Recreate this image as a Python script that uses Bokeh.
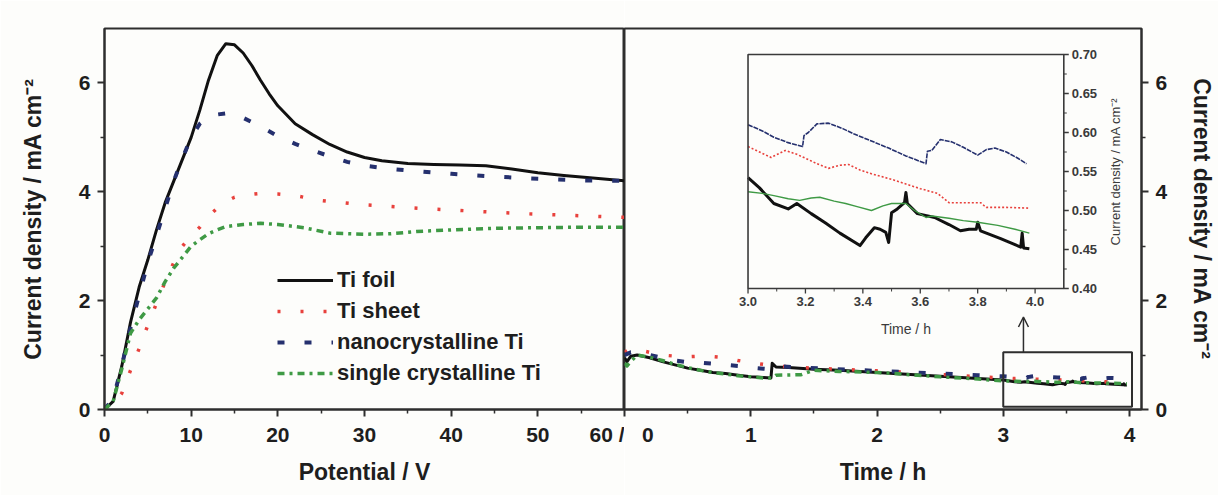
from bokeh.plotting import figure
from bokeh.layouts import row
from bokeh.models import Range1d, FixedTicker, Legend, LegendItem, Label, Arrow, OpenHead
from bokeh.embed import file_html
from bokeh.resources import INLINE
from bokeh.core.properties import value

# ---------------- data: potentiodynamic sweep (left panel) ----------------
v_foil = [0, 1, 2, 3, 4, 5, 6, 7, 8, 9, 10, 11, 12, 13, 14, 15, 16, 17, 18, 19, 20,
          22, 24, 26, 28, 30, 32, 35, 38, 41, 44, 47, 50, 53, 56, 60]
j_foil = [0, 0.15, 0.8, 1.6, 2.25, 2.75, 3.3, 3.8, 4.2, 4.6, 5.0, 5.5, 6.05, 6.5, 6.72,
          6.7, 6.55, 6.32, 6.05, 5.8, 5.58, 5.25, 5.05, 4.87, 4.73, 4.63, 4.57, 4.52,
          4.5, 4.49, 4.48, 4.42, 4.35, 4.3, 4.26, 4.2]

v_sheet = [0, 1, 2, 3, 4, 5, 6, 7, 8, 9, 10, 11, 12, 13, 14, 15, 16, 18, 20, 22, 25,
           30, 37, 48, 55, 60]
j_sheet = [0, 0.08, 0.3, 0.72, 1.12, 1.55, 1.95, 2.35, 2.7, 3.0, 3.2, 3.35, 3.55, 3.7,
           3.82, 3.9, 3.94, 3.97, 3.96, 3.93, 3.84, 3.76, 3.69, 3.6, 3.56, 3.53]

v_nano = [0, 1, 2, 3, 4, 5, 6, 7, 8, 9, 10, 11, 12, 13, 14, 15, 16, 17, 18, 20, 22,
          24, 26, 28, 30, 33, 36, 40, 45, 50, 55, 60]
j_nano = [0, 0.2, 0.8, 1.5, 2.1, 2.7, 3.2, 3.7, 4.2, 4.62, 5.0, 5.25, 5.37, 5.42, 5.44,
          5.42, 5.36, 5.28, 5.2, 5.02, 4.88, 4.76, 4.65, 4.55, 4.48, 4.42, 4.38, 4.33,
          4.28, 4.24, 4.21, 4.2]

v_single = [0, 1, 2, 3, 4, 5, 6, 7, 8, 9, 10, 11, 12, 13, 14, 15, 16, 18, 20, 23, 26,
            30, 33, 36, 40, 45, 50, 55, 60]
j_single = [0, 0.15, 0.75, 1.4, 1.65, 1.85, 2.05, 2.35, 2.6, 2.8, 3.0, 3.12, 3.23, 3.3,
            3.36, 3.38, 3.4, 3.42, 3.4, 3.34, 3.24, 3.22, 3.23, 3.27, 3.3, 3.33, 3.34,
            3.35, 3.35]

# ---------------- data: potentiostatic hold (right panel) ----------------
t_foil = [0, 0.02, 0.05, 0.1, 0.2, 0.3, 0.4, 0.5, 0.6, 0.7, 0.8, 0.9, 1.0, 1.1, 1.16,
          1.17, 1.2, 1.3, 1.5, 1.7, 2.0, 2.2, 2.5, 2.8, 3.0, 3.04, 3.09, 3.14, 3.17,
          3.22, 3.27, 3.32, 3.39, 3.41, 3.44, 3.46, 3.48, 3.49, 3.50, 3.52, 3.545, 3.55,
          3.555, 3.59, 3.65, 3.70, 3.74, 3.77, 3.795, 3.80, 3.81, 3.88, 3.95, 3.955,
          3.96, 3.98]
i_foil = [0.95, 0.88, 0.98, 1.0, 0.95, 0.88, 0.82, 0.76, 0.72, 0.68, 0.66, 0.63, 0.6,
          0.59, 0.58, 0.85, 0.78, 0.77, 0.74, 0.72, 0.68, 0.65, 0.61, 0.57, 0.542,
          0.529, 0.509, 0.502, 0.509, 0.496, 0.484, 0.471, 0.455, 0.465, 0.478, 0.476,
          0.472, 0.459, 0.497, 0.502, 0.51, 0.523, 0.509, 0.496, 0.491, 0.482, 0.474,
          0.476, 0.476, 0.485, 0.474, 0.464, 0.453, 0.471, 0.452, 0.451]

t_sheet = [0, 0.05, 0.1, 0.2, 0.3, 0.4, 0.5, 0.6, 0.7, 0.8, 0.9, 1.0, 1.1, 1.2, 1.4,
           1.6, 1.8, 2.0, 2.2, 2.4, 2.6, 2.8, 3.0, 3.04, 3.08, 3.13, 3.17, 3.2, 3.24,
           3.28, 3.32, 3.35, 3.39, 3.43, 3.5, 3.55, 3.6, 3.66, 3.70, 3.75, 3.81, 3.83,
           3.9, 3.98]
i_sheet = [1.05, 1.12, 1.1, 1.05, 1.0, 0.98, 0.97, 0.98, 0.97, 0.95, 0.9, 0.86, 0.83,
           0.8, 0.77, 0.75, 0.73, 0.71, 0.69, 0.66, 0.63, 0.6, 0.582, 0.575, 0.568,
           0.577, 0.572, 0.567, 0.56, 0.554, 0.558, 0.559, 0.552, 0.547, 0.54, 0.534,
           0.528, 0.522, 0.51, 0.51, 0.51, 0.504, 0.504, 0.503]

t_nano = [0, 0.05, 0.1, 0.2, 0.3, 0.4, 0.5, 0.6, 0.7, 0.8, 0.9, 1.0, 1.1, 1.15, 1.2,
          1.4, 1.6, 1.8, 2.0, 2.2, 2.4, 2.6, 2.8, 3.0, 3.05, 3.09, 3.14, 3.19, 3.195,
          3.21, 3.24, 3.28, 3.33, 3.37, 3.43, 3.49, 3.55, 3.62, 3.625, 3.64, 3.67,
          3.71, 3.75, 3.80, 3.83, 3.86, 3.90, 3.94, 3.97]
i_nano = [1.0, 1.05, 1.05, 1.0, 0.95, 0.9, 0.87, 0.86, 0.84, 0.82, 0.8, 0.77, 0.75,
          0.74, 0.8, 0.77, 0.75, 0.73, 0.71, 0.69, 0.67, 0.65, 0.63, 0.61, 0.602, 0.594,
          0.587, 0.582, 0.596, 0.600, 0.611, 0.612, 0.605, 0.598, 0.589, 0.58, 0.57,
          0.56, 0.576, 0.577, 0.591, 0.588, 0.581, 0.571, 0.578, 0.58, 0.575, 0.567,
          0.56]

t_single = [0, 0.02, 0.04, 0.1, 0.2, 0.3, 0.4, 0.5, 0.6, 0.7, 0.8, 0.9, 1.0, 1.1, 1.17,
            1.2, 1.4, 1.5, 1.7, 2.0, 2.2, 2.5, 2.8, 3.0, 3.05, 3.09, 3.14, 3.18, 3.22,
            3.25, 3.30, 3.34, 3.38, 3.43, 3.47, 3.50, 3.55, 3.58, 3.62, 3.64, 3.70,
            3.75, 3.80, 3.87, 3.93, 3.98]
i_single = [0.85, 0.8, 0.86, 1.0, 0.96, 0.9, 0.83, 0.77, 0.72, 0.68, 0.65, 0.62, 0.6,
            0.58, 0.58, 0.63, 0.64, 0.72, 0.7, 0.68, 0.65, 0.6, 0.56, 0.524, 0.522,
            0.519, 0.515, 0.513, 0.516, 0.517, 0.512, 0.509, 0.505, 0.50, 0.506, 0.509,
            0.509, 0.50, 0.491, 0.493, 0.49, 0.487, 0.485, 0.481, 0.476, 0.471]

series_names = ["Ti foil", "Ti sheet", "nanocrystalline Ti", "single crystalline Ti"]

# axes ticks / ranges
pot_range = [0, 60]
pot_ticks = [0, 10, 20, 30, 40, 50, 60]
pot_minor = [5, 15, 25, 35, 45, 55]
time_range = [0, 4.095]
time_ticks = [0, 1, 2, 3, 4]
time_minor = [0.5, 1.5, 2.5, 3.5]
cd_range = [0, 7]
cd_ticks = [0, 2, 4, 6]
cd_minor = [1, 3, 5]

ins_x_range = [3.0, 4.1]
ins_y_range = [0.40, 0.70]
ins_xticks = [3.0, 3.2, 3.4, 3.6, 3.8, 4.0]
ins_xminor = [3.1, 3.3, 3.5, 3.7, 3.9]
ins_yticks = [0.40, 0.45, 0.50, 0.55, 0.60, 0.65, 0.70]
ins_yminor = [0.425, 0.475, 0.525, 0.575, 0.625, 0.675]

zoom_box = dict(left=3.0, right=4.02, bottom=0.05, top=1.05)
arrow_t = 3.16
arrow_top = 1.70

# ---------------- styles ----------------
FONT = "Liberation Sans"
TXT = "#1e1e1e"
AXC = "#2e2e2e"
BG = "#fdfdfb"
colors = ["#111111", "#e8413c", "#25306e", "#3f9a45"]
widths = [3, 3.5, 4, 3.5]
dashes = ["solid", "3 20", "7 20", "7 5 3 5"]
ins_widths = [3, 1.6, 1.6, 1.4]
ins_dashes = ["solid", "2 2", "5 1", "solid"]
NB = "\u00a0"

FRAME_H = 381
FRAME_W2 = 519
ins_px = dict(left=124, right=441, top=26, bottom=260)   # inset frame inside right panel frame (px)


def style_axis(ax):
    ax.axis_line_color = AXC
    ax.axis_line_width = 2
    ax.major_tick_line_color = AXC
    ax.major_tick_line_width = 2
    ax.minor_tick_line_color = AXC
    ax.minor_tick_line_width = 1.5
    ax.major_tick_in = 0
    ax.major_tick_out = 7
    ax.minor_tick_in = 0
    ax.minor_tick_out = 4
    ax.major_label_text_font = FONT
    ax.major_label_text_font_style = "bold"
    ax.major_label_text_font_size = "21px"
    ax.major_label_text_color = TXT
    ax.axis_label_text_font = FONT
    ax.axis_label_text_font_style = "bold"
    ax.axis_label_text_font_size = "23px"
    ax.axis_label_text_color = TXT


def style_fig(p):
    p.background_fill_color = BG
    p.border_fill_color = BG
    p.outline_line_color = AXC
    p.outline_line_width = 2
    p.xgrid.grid_line_color = None
    p.ygrid.grid_line_color = None


# ---------------- left panel ----------------
p1 = figure(width=624, height=495, x_range=Range1d(*pot_range), y_range=Range1d(*cd_range),
            output_backend="svg", toolbar_location=None,
            min_border_left=104, min_border_right=0, min_border_top=28, min_border_bottom=86)
style_fig(p1)
style_axis(p1.xaxis[0])
style_axis(p1.yaxis[0])
p1.xaxis.ticker = FixedTicker(ticks=pot_ticks, minor_ticks=pot_minor)
# shared "60 / 0" label at the panel junction: left half here
p1.xaxis.major_label_overrides = {60: "60 /"}
p1.xaxis.axis_label = "Potential / V"
p1.xaxis.major_label_standoff = 6
p1.xaxis.axis_label_standoff = 10
p1.yaxis.ticker = FixedTicker(ticks=cd_ticks, minor_ticks=cd_minor)
p1.yaxis.axis_label = "Current density / mA cm\u207b\u00b2"
p1.yaxis.major_label_standoff = 7
p1.yaxis.axis_label_standoff = 30

left_data = [(v_foil, j_foil), (v_sheet, j_sheet), (v_nano, j_nano), (v_single, j_single)]
rends = []
for (xs, ys), c, w, d in zip(left_data, colors, widths, dashes):
    r = p1.line(xs, ys, line_color=c, line_width=w, line_dash=d, line_join="round")
    rends.append(r)

legend = Legend(items=[LegendItem(label=n, renderers=[r]) for n, r in zip(series_names, rends)],
                location=(173, 21), orientation="vertical",
                border_line_color=None, background_fill_alpha=0,
                padding=0, margin=0, spacing=1,
                glyph_width=56, glyph_height=30, label_height=30, label_standoff=4,
                label_text_font=FONT, label_text_font_style="bold",
                label_text_font_size="22px", label_text_color=TXT)
p1.add_layout(legend)

# ---------------- right panel ----------------
p2 = figure(width=594, height=495, x_range=Range1d(*time_range), y_range=Range1d(*cd_range),
            y_axis_location="right", output_backend="svg", toolbar_location=None,
            min_border_left=0, min_border_right=75, min_border_top=28, min_border_bottom=86)
style_fig(p2)
style_axis(p2.xaxis[0])
style_axis(p2.yaxis[0])
p2.xaxis.ticker = FixedTicker(ticks=time_ticks, minor_ticks=time_minor)
# right half of the "60 / 0" junction label
p2.xaxis.major_label_overrides = {0: NB * 3 + "0"}
p2.xaxis.axis_label = "Time / h"
p2.xaxis.major_label_standoff = 6
p2.xaxis.axis_label_standoff = 10
p2.yaxis.ticker = FixedTicker(ticks=cd_ticks, minor_ticks=cd_minor)
p2.yaxis.axis_label = "Current density / mA cm\u207b\u00b2"
p2.yaxis.major_label_standoff = 7
p2.yaxis.axis_label_standoff = 19

right_data = [(t_foil, i_foil), (t_sheet, i_sheet), (t_nano, i_nano), (t_single, i_single)]
for (xs, ys), c, w, d in zip(right_data, colors, widths, dashes):
    p2.line(xs, ys, line_color=c, line_width=w, line_dash=d, line_join="round")

# zoom box + arrow
p2.quad(left=[zoom_box["left"]], right=[zoom_box["right"]], bottom=[zoom_box["bottom"]],
        top=[zoom_box["top"]], fill_color=None, line_color=AXC, line_width=2)
p2.add_layout(Arrow(end=OpenHead(size=10, line_width=1.5, line_color=AXC),
                    x_start=arrow_t, y_start=zoom_box["top"], x_end=arrow_t, y_end=arrow_top,
                    line_width=1.5, line_color=AXC))

# inset ranges mapped onto the right panel frame
sx = (ins_x_range[1] - ins_x_range[0]) / (ins_px["right"] - ins_px["left"])
ix0 = ins_x_range[0] - ins_px["left"] * sx
ix1 = ix0 + FRAME_W2 * sx
sy = (ins_y_range[1] - ins_y_range[0]) / (ins_px["bottom"] - ins_px["top"])
iy0 = ins_y_range[0] - (FRAME_H - ins_px["bottom"]) * sy
iy1 = iy0 + FRAME_H * sy
p2.extra_x_ranges = {"ix": Range1d(ix0, ix1)}
p2.extra_y_ranges = {"iy": Range1d(iy0, iy1)}
IR = dict(x_range_name="ix", y_range_name="iy")

for (xs, ys), c, w, d in zip(right_data, colors, ins_widths, ins_dashes):
    sub = [(a, b) for a, b in zip(xs, ys) if a >= ins_x_range[0]]
    p2.line([a for a, _ in sub], [b for _, b in sub], line_color=c, line_width=w,
            line_dash=d, line_join="round", **IR)

INS_C = "#3a3a3a"
p2.quad(left=[ins_x_range[0]], right=[ins_x_range[1]], bottom=[ins_y_range[0]],
        top=[ins_y_range[1]], fill_color=None, line_color=INS_C, line_width=1.6, **IR)
yb = ins_y_range[0]
xr = ins_x_range[1]
p2.segment(x0=ins_xticks, y0=[yb] * len(ins_xticks), x1=ins_xticks,
           y1=[yb - 5 * sy] * len(ins_xticks), line_color=INS_C, line_width=1.3, **IR)
p2.segment(x0=ins_xminor, y0=[yb] * len(ins_xminor), x1=ins_xminor,
           y1=[yb - 3 * sy] * len(ins_xminor), line_color=INS_C, line_width=1, **IR)
p2.segment(x0=[xr] * len(ins_yticks), y0=ins_yticks, x1=[xr + 5 * sx] * len(ins_yticks),
           y1=ins_yticks, line_color=INS_C, line_width=1.3, **IR)
p2.segment(x0=[xr] * len(ins_yminor), y0=ins_yminor, x1=[xr + 3 * sx] * len(ins_yminor),
           y1=ins_yminor, line_color=INS_C, line_width=1, **IR)
p2.text(x=ins_xticks, y=[yb] * len(ins_xticks), text=[f"{t:.1f}" for t in ins_xticks],
        y_offset=8, text_align="center", text_baseline="top", text_font=value(FONT),
        text_font_size="13px", text_font_style="bold", text_color=INS_C, **IR)
p2.text(x=[xr] * len(ins_yticks), y=ins_yticks, text=[f"{v:.2f}" for v in ins_yticks],
        x_offset=8, text_align="left", text_baseline="middle", text_font=value(FONT),
        text_font_size="13px", text_font_style="bold", text_color=INS_C, **IR)
p2.add_layout(Label(x=(ins_x_range[0] + ins_x_range[1]) / 2, y=yb, y_offset=-40,
                    text="Time / h", text_align="center", text_baseline="middle",
                    text_font=FONT, text_font_size="14px", text_color=INS_C, **IR))
p2.add_layout(Label(x=xr, y=(ins_y_range[0] + ins_y_range[1]) / 2, x_offset=52,
                    angle=90, angle_units="deg",
                    text="Current density / mA cm\u207b\u00b2", text_align="center",
                    text_baseline="middle", text_font=FONT, text_font_size="13px",
                    text_color=INS_C, **IR))

layout = row(p1, p2, spacing=0)
open("out.html", "w").write(file_html(layout, INLINE))
